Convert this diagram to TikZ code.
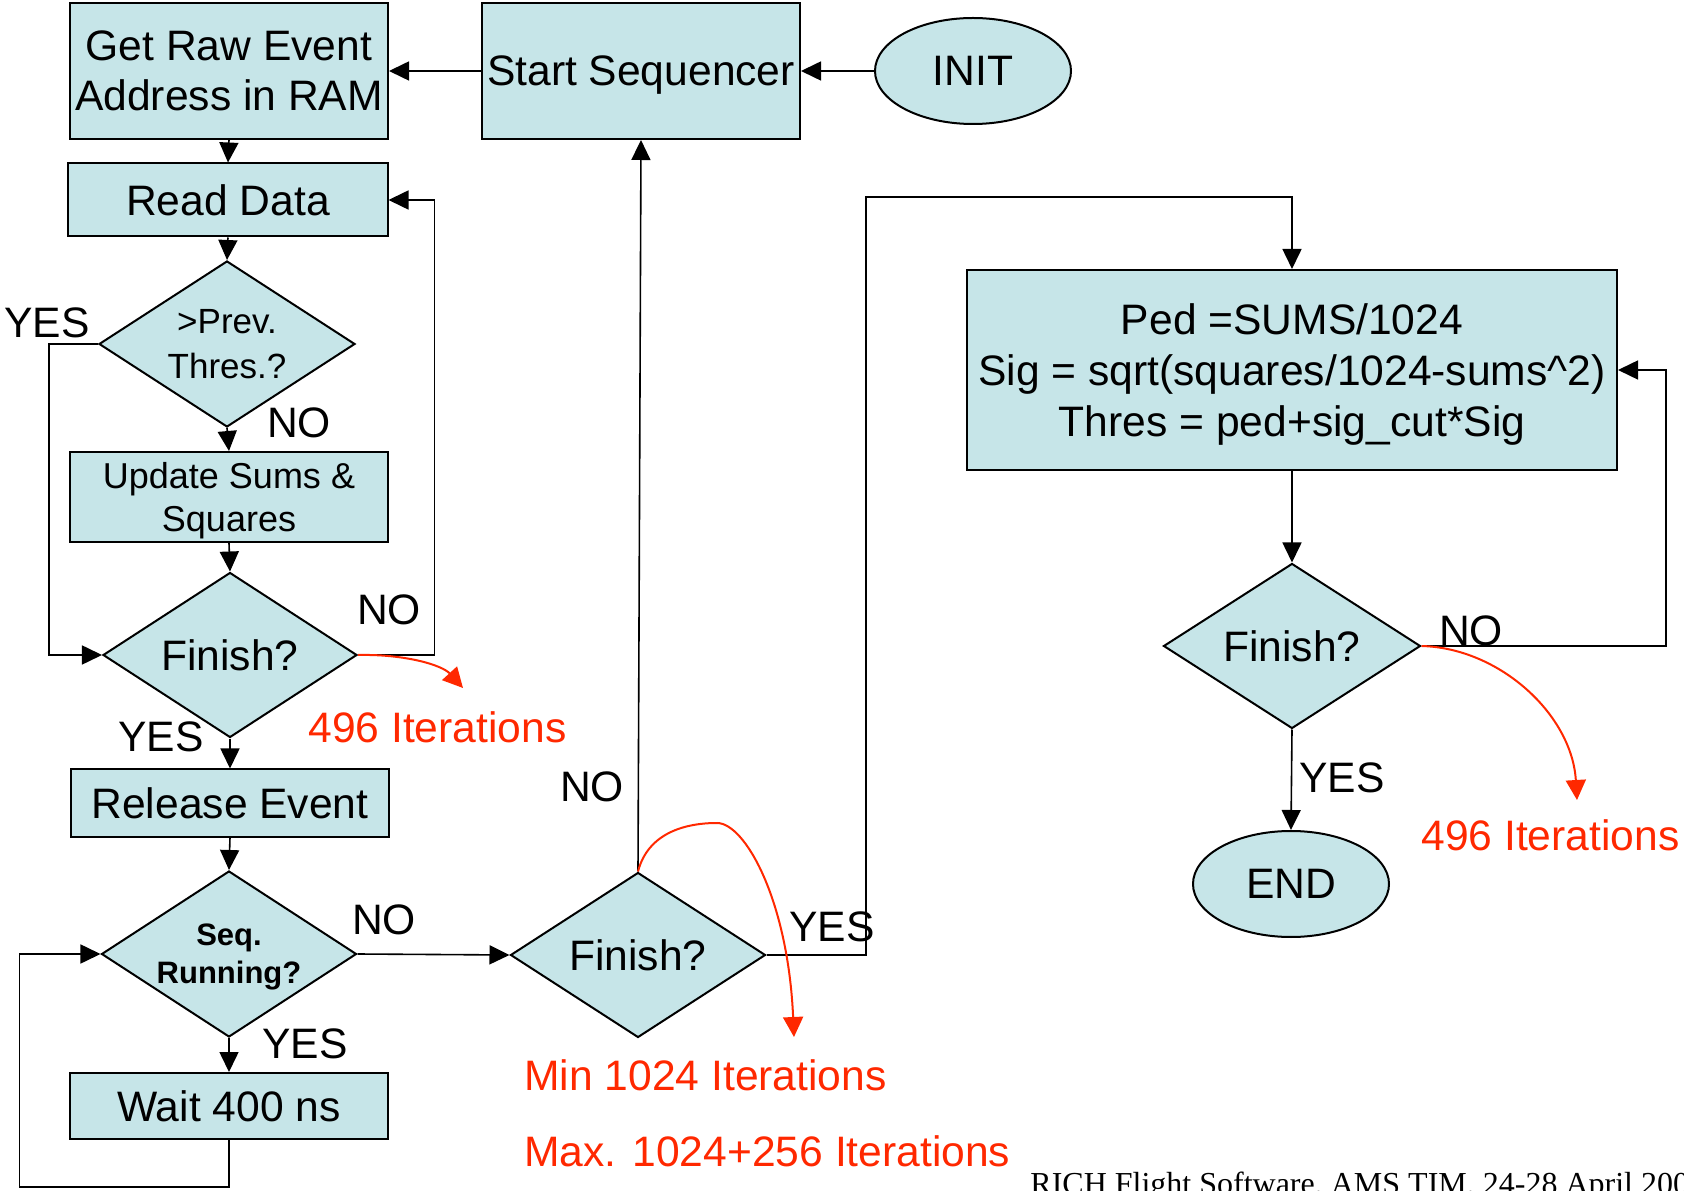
\documentclass[tikz,border=0pt]{standalone}
\usepackage{fontspec}
\setmainfont{Liberation Sans}
\newfontfamily\footfont{Liberation Serif}
\usetikzlibrary{arrows.meta,shapes.geometric,calc}
\definecolor{boxfill}{RGB}{198,229,232}
\definecolor{itred}{RGB}{255,40,0}
\tikzset{
  shapebase/.style={draw=black, line width=1bp, fill=boxfill, inner sep=0pt,
    align=center, text depth=0pt, font=\fontsize{21.3bp}{25bp}\selectfont},
  procbox/.style={shapebase, rectangle},
  decision/.style={shapebase, diamond, aspect=1.54},
  terminal/.style={shapebase, ellipse},
  conn/.style={draw=black, line width=0.8bp, -{Triangle[length=10bp,width=9.5bp]}},
  iter/.style={draw=itred, line width=1bp, -{Triangle[length=10bp,width=10bp]}},
  answer/.style={font=\fontsize{21.3bp}{25bp}\selectfont, inner sep=0pt, anchor=base},
  note/.style={text=itred, font=\fontsize{21.3bp}{25bp}\selectfont, inner sep=0pt, anchor=base west},
  footer/.style={font=\footfont\fontsize{16bp}{19bp}\selectfont, inner sep=0pt, anchor=base west}
}
\begin{document}
\begin{tikzpicture}[x=0.5bp,y=-0.5bp]
\useasboundingbox (0,0) rectangle (1684,1191);
\clip (0,0) rectangle (1684,1191);

% left column: event loop
\node[procbox, minimum width=159bp, minimum height=68bp] (getraw) at (229,71) {Get Raw Event\\Address in RAM};
\node[procbox, minimum width=159bp, minimum height=68bp] (startseq) at (641,71) {Start Sequencer};
\node[terminal, minimum width=98bp, minimum height=53bp] (init) at (973,71) {INIT};
\node[procbox, minimum width=159.5bp, minimum height=36.5bp] (readdata) at (228,200) {Read Data};
\node[decision, minimum width=128bp, minimum height=83bp, font=\fontsize{17.5bp}{22.5bp}\selectfont] (prevthr) at (227,344) {>Prev.\\Thres.?};
\node[procbox, minimum width=159bp, minimum height=45bp, font=\fontsize{18bp}{21.5bp}\selectfont] (upd) at (229,497) {Update Sums \&\\Squares};
\node[decision, minimum width=127bp, minimum height=82.5bp] (fin1) at (230,655) {Finish?};
\node[procbox, minimum width=159bp, minimum height=33.5bp] (rel) at (230,803) {Release Event};
\node[decision, minimum width=127.5bp, minimum height=83bp, font=\bfseries\fontsize{15.5bp}{19bp}\selectfont] (seq) at (229,954) {Seq.\\Running?};
\node[procbox, minimum width=159bp, minimum height=33bp] (wait) at (229,1106) {Wait 400 ns};
\node[decision, minimum width=127.5bp, minimum height=82.5bp] (fin2) at (638,955) {Finish?};

% right column: threshold computation
\node[procbox, minimum width=325bp, minimum height=100bp, font=\fontsize{21.3bp}{25.5bp}\selectfont] (ped) at (1292,370)
  {Ped =SUMS/1024\\Sig = sqrt(squares/1024-sums\textasciicircum 2)\\Thres = ped+sig\_cut*Sig};
\node[decision, minimum width=128.5bp, minimum height=82.5bp] (fin3) at (1292,646) {Finish?};
\node[terminal, minimum width=98bp, minimum height=53bp] (endn) at (1291,884) {END};

% flow connectors
\draw[conn] (startseq.west) -- (getraw.east);
\draw[conn] (init.west) -- (startseq.east);
\draw[conn] (getraw.south) -- (readdata.north);
\draw[conn] (readdata.south) -- (prevthr.north);
\draw[conn] (prevthr.south) -- (upd.north);
\draw[conn] (prevthr.west) -- ++(-49,0) |- (fin1.west);
\draw[conn] (upd.south) -- (fin1.north);
\draw[conn] (fin1.east) -| ($(readdata.east)+(46,0)$) -- (readdata.east);
\draw[conn] (fin1.south) -- (rel.north);
\draw[conn] (rel.south) -- (seq.north);
\draw[conn] (seq.south) -- (wait.north);
\draw[conn] (wait.south) -- ++(0,47) -| ($(seq.west)+(-81,0)$) -- (seq.west);
\draw[conn] (seq.east) -- (fin2.west);
\draw[conn] (fin2.north) -- (startseq.south);
\draw[conn] (fin2.east) -| ($(ped.north)+(-426,-72)$) -| (ped.north);
\draw[conn] (ped.south) -- (fin3.north);
\draw[conn] (fin3.east) -| ($(ped.east)+(48,0)$) -- (ped.east);
\draw[conn] (fin3.south) -- (endn.north);

% iteration counters
\coordinate (tip1) at (463,688);
\coordinate (tip2) at (794,1037);
\coordinate (tip3) at (1577,800);
\draw[iter] (fin1.east) .. controls (405,654) and (442,665) .. (tip1);
\draw[iter] (fin2.north) .. controls (648,833) and (685,823) .. (717,823)
  .. controls (745,823) and (788,900) .. (tip2);
\draw[iter] (fin3.east) .. controls (1500,648) and (1572,715) .. (tip3);

% branch labels
\node[answer] (yes1) at (47,338) {YES};
\node[answer] (no1) at (299,438) {NO};
\node[answer] (no2) at (389,625) {NO};
\node[answer] (yes2) at (161,752) {YES};
\node[answer] (no3) at (592,802) {NO};
\node[answer] (no4) at (384,934) {NO};
\node[answer] (yes3) at (305,1058) {YES};
\node[answer] (yes4) at (832,941) {YES};
\node[answer] (no5) at (1471,646) {NO};
\node[answer] (yes5) at (1342,793) {YES};

\node[note] (n1) at (308,743) {496 Iterations};
\node[note] (n2) at (524,1090) {Min 1024 Iterations};
\node[note] (n3) at (524,1166) {Max. 1024+256 Iterations};
\node[note] (n4) at (1421,850) {496 Iterations};

\node[footer] (foot) at (1030,1194) {RICH Flight Software, AMS TIM, 24-28 April 200};
\end{tikzpicture}
\end{document}
